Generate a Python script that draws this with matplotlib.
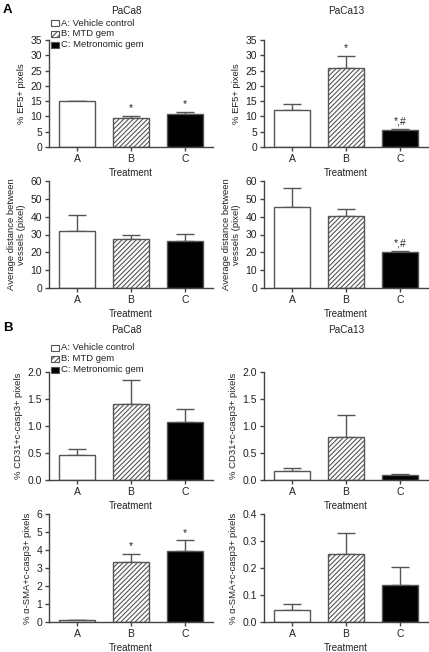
import matplotlib
matplotlib.use("Agg")
import matplotlib.pyplot as plt
import numpy as np
from matplotlib.patches import Rectangle

plt.rcParams['font.family'] = ['Liberation Sans', 'DejaVu Sans']
plt.rcParams['hatch.linewidth'] = 0.8
plt.rcParams['hatch.color'] = '#222222'

categories = ["A", "B", "C"]
legend_labels = ["A: Vehicle control", "B: MTD gem", "C: Metronomic gem"]

# Panel A
ef5_paca8 = [14.9, 9.4, 10.9]
ef5_paca8_err = [0.3, 0.9, 0.6]
ef5_paca8_sig = ["", "*", "*"]
ef5_paca13 = [12.0, 25.8, 5.5]
ef5_paca13_err = [2.2, 4.0, 0.35]
ef5_paca13_sig = ["", "*", "*,#"]
dist_paca8 = [32.0, 27.4, 26.1]
dist_paca8_err = [9.1, 2.6, 4.4]
dist_paca8_sig = ["", "", ""]
dist_paca13 = [45.7, 40.6, 20.0]
dist_paca13_err = [10.6, 3.9, 0.7]
dist_paca13_sig = ["", "", "*,#"]

# Panel B
cd31_paca8 = [0.47, 1.40, 1.08]
cd31_paca8_err = [0.10, 0.46, 0.24]
cd31_paca8_sig = ["", "", ""]
cd31_paca13 = [0.17, 0.79, 0.086]
cd31_paca13_err = [0.045, 0.42, 0.018]
cd31_paca13_sig = ["", "", ""]
sma_paca8 = [0.11, 3.32, 3.95]
sma_paca8_err = [0.0, 0.45, 0.59]
sma_paca8_sig = ["", "*", "*"]
sma_paca13 = [0.045, 0.251, 0.137]
sma_paca13_err = [0.021, 0.078, 0.067]
sma_paca13_sig = ["", "", ""]

W, H = 429, 652
fig = plt.figure(figsize=(W / 100, H / 100), dpi=100)

def ax_at(left, top, right, bottom):
    return fig.add_axes([left / W, 1 - bottom / H, (right - left) / W, (bottom - top) / H])

fs = 7.5
lfs = 6.8
edge = '#555555'
spine_c = '#444444'
txt_c = '#222222'
faces = ['white', 'white', 'black']
hatches = [None, '///////', None]

def draw(ax, vals, errs, sigs, ymax, ystep, ylabel, fmt):
    x = np.arange(len(categories))
    for i in range(len(categories)):
        ax.bar(x[i], vals[i], width=0.68, color=faces[i], edgecolor=edge,
               linewidth=1.0, hatch=hatches[i], zorder=2)
    ax.errorbar(x, vals, yerr=[np.zeros(len(vals)), errs], fmt='none',
                ecolor=edge, elinewidth=1.0, capsize=6.5, capthick=1.0, zorder=1)
    for i, s in enumerate(sigs):
        if s:
            ax.text(x[i], vals[i] + errs[i] + ymax * 0.025, s, ha='center',
                    va='bottom', fontsize=fs, color=txt_c)
    ax.set_xlim(-0.52, 2.52)
    ax.set_ylim(0, ymax)
    ticks = np.arange(0, ymax + ystep / 2, ystep)
    ax.set_yticks(ticks)
    ax.set_yticklabels([fmt.format(v) for v in ticks])
    ax.set_xticks(x)
    ax.set_xticklabels(categories)
    ax.spines['top'].set_visible(False)
    ax.spines['right'].set_visible(False)
    for sp in ('left', 'bottom'):
        ax.spines[sp].set_color(spine_c)
        ax.spines[sp].set_linewidth(1.0)
    ax.tick_params(axis='both', labelsize=fs, length=3, width=1.0,
                   color=spine_c, pad=2, labelcolor=txt_c)
    ax.set_ylabel(ylabel, fontsize=lfs, color=txt_c, labelpad=3)
    ax.set_xlabel("Treatment", fontsize=7.0, color=txt_c, labelpad=3)

L0, L1 = 49, 213
R0, R1 = 264, 428

a1 = ax_at(L0, 40, L1, 147)
draw(a1, ef5_paca8, ef5_paca8_err, ef5_paca8_sig, 35, 5, "% EF5+ pixels", "{:.0f}")
a2 = ax_at(R0, 40, R1, 147)
draw(a2, ef5_paca13, ef5_paca13_err, ef5_paca13_sig, 35, 5, "% EF5+ pixels", "{:.0f}")
a3 = ax_at(L0, 181, L1, 288)
draw(a3, dist_paca8, dist_paca8_err, dist_paca8_sig, 60, 10,
     "Average distance between\nvessels (pixel)", "{:.0f}")
a4 = ax_at(R0, 181, R1, 288)
draw(a4, dist_paca13, dist_paca13_err, dist_paca13_sig, 60, 10,
     "Average distance between\nvessels (pixel)", "{:.0f}")
b1 = ax_at(L0, 372, L1, 480)
draw(b1, cd31_paca8, cd31_paca8_err, cd31_paca8_sig, 2.0, 0.5,
     "% CD31+c-casp3+ pixels", "{:.1f}")
b2 = ax_at(R0, 372, R1, 480)
draw(b2, cd31_paca13, cd31_paca13_err, cd31_paca13_sig, 2.0, 0.5,
     "% CD31+c-casp3+ pixels", "{:.1f}")
b3 = ax_at(L0, 514, L1, 622)
draw(b3, sma_paca8, sma_paca8_err, sma_paca8_sig, 6, 1,
     "% α-SMA+c-casp3+ pixels", "{:.0f}")
b4 = ax_at(R0, 514, R1, 622)
draw(b4, sma_paca13, sma_paca13_err, sma_paca13_sig, 0.4, 0.1,
     "% α-SMA+c-casp3+ pixels", "{:.1f}")

def ftext(x, y, s, **kw):
    fig.text(x / W, 1 - y / H, s, **kw)

ftext(3, 10, "A", fontsize=9.5, fontweight='bold', va='center', ha='left')
ftext(3, 328, "B", fontsize=9.5, fontweight='bold', va='center', ha='left')
for y in (11, 330):
    ftext(126, y, "PaCa8", fontsize=7.2, ha='center', va='center', color=txt_c)
    ftext(346, y, "PaCa13", fontsize=7.2, ha='center', va='center', color=txt_c)

# legends
for ys in ((23, 33.5, 44.5), (348, 358.5, 369.5)):
    for i, yy in enumerate(ys):
        r = Rectangle((51 / W, 1 - (yy + 3) / H), 7.5 / W, 6 / H, transform=fig.transFigure,
                      facecolor=faces[i], edgecolor=edge, linewidth=0.8,
                      hatch=None if hatches[i] is None else '//////')
        fig.patches.append(r)
        ftext(61, yy, legend_labels[i], fontsize=lfs, ha='left', va='center', color=txt_c)

fig.savefig("out.png", dpi=100)
